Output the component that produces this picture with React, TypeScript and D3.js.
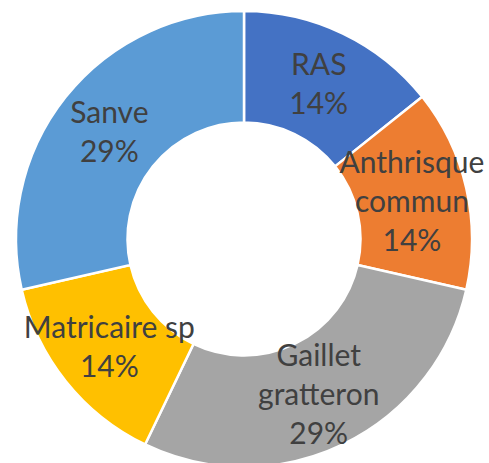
import React from "react";
import * as d3 from "d3";

const categories: string[][] = [["RAS"], ["Anthrisque", "commun"], ["Gaillet", "gratteron"], ["Matricaire sp"], ["Sanve"]];
const values: number[] = [1, 1, 2, 1, 2];
const colors: string[] = ["#4472C4", "#ED7D31", "#A5A5A5", "#FFC000", "#5B9BD5"];

const W = 489;
const H = 463;
const cx = 244;
const cy = 239;
const outerR = 228;
const innerR = 116.5;
const fontSize = 30;
const lineH = 39;

export default function App() {
  const total = d3.sum(values);
  const pie = d3.pie<number>().sort(null).value((d) => d);
  const arcs = pie(values);
  const arc = d3.arc<d3.PieArcDatum<number>>().innerRadius(innerR).outerRadius(outerR);
  const fmt = d3.format(".0%");
  return (
    <svg width={W} height={H} style={{ position: "absolute", left: 0, top: 0 }}>
      <g transform={`translate(${cx},${cy})`}>
        {arcs.map((a, i) => (
          <path key={i} d={arc(a) || ""} fill={colors[i]} stroke="#fff" strokeWidth={2.5} strokeLinejoin="miter" />
        ))}
        {arcs.map((a, i) => {
          const [x, y] = arc.centroid(a);
          const lines = [...categories[i], fmt(values[i] / total)];
          const y0 = y - ((lines.length - 1) * lineH) / 2 + 11;
          return (
            <text key={"t" + i} x={x} y={y0} textAnchor="middle" fontFamily="Lato, 'Noto Sans', sans-serif" fontSize={fontSize} fill="#404040">
              {lines.map((l, j) => (
                <tspan key={j} x={x} y={y0 + j * lineH}>{l}</tspan>
              ))}
            </text>
          );
        })}
      </g>
    </svg>
  );
}
